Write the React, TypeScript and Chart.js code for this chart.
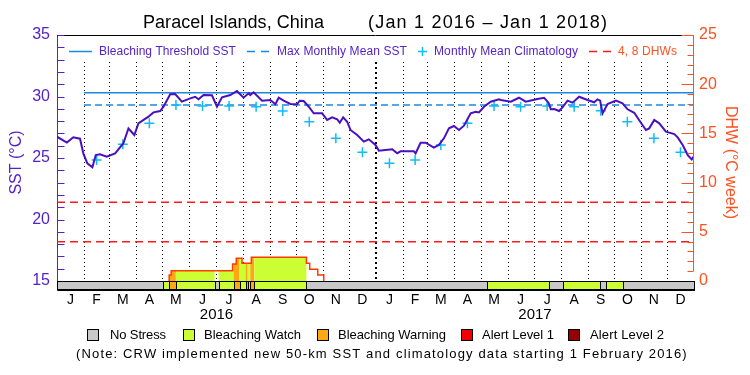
import React, { useEffect, useRef } from 'react';
import { Chart, registerables } from 'chart.js';

Chart.register(...registerables);

// ---------- data ----------
const MONTH_LETTERS = ['J', 'F', 'M', 'A', 'M', 'J', 'J', 'A', 'S', 'O', 'N', 'D'];
const YEARS = [2016, 2017];

const sstDays = [0, 11.3, 18.7, 26.4, 30.2, 34.8, 40.6, 44.5, 49.4, 57.1, 66.7, 76.2, 82, 88.8, 93.4, 104.9, 110.7, 118.4, 122.2, 129.9, 135.6, 143.3, 152.9, 158.6, 162.4, 168.2, 177.8, 183.6, 189.3, 198.9, 206.5, 214.1, 219.9, 221.8, 225.6, 235.3, 244.8, 250.6, 254.4, 260.1, 267.8, 275.5, 278.5, 283.1, 288.9, 294.6, 304.3, 310, 315.7, 321.5, 324.5, 328.4, 333, 336.8, 344.5, 352.1, 357.8, 365.5, 369.3, 377, 384.7, 390.4, 394.2, 409.5, 411.5, 417.2, 423, 432.5, 438.3, 444, 449.8, 455.5, 461.3, 467, 474.7, 480.5, 484.2, 490, 497.7, 507.2, 509.2, 520.7, 530.2, 537.9, 551.4, 559, 564, 566.7, 570.5, 576.2, 580.1, 585.9, 591.6, 599.2, 608.8, 616.4, 620.3, 623.3, 626.1, 631.8, 641.4, 649, 654.8, 662.4, 670.1, 675.8, 679.6, 685.4, 691.1, 698.8, 708.4, 712.3, 718, 723.8, 728.4, 731];
const sstValues = [26.73, 26.25, 26.68, 26.57, 25.38, 24.57, 24.24, 25.24, 25.3, 25.1, 25.38, 26.2, 27.4, 26.87, 27.82, 28.36, 28.71, 28.82, 29.17, 30.18, 30.2, 29.58, 29.85, 29.98, 29.77, 30.12, 30.1, 29.17, 29.93, 30.12, 30.45, 29.9, 30.26, 30.12, 30.34, 29.66, 29.72, 29.37, 29.9, 29.66, 29.39, 29.37, 29.66, 29.63, 29.17, 28.63, 28.63, 28.09, 28.31, 28.15, 27.87, 28.31, 27.95, 27.28, 26.87, 26.33, 26.52, 26.06, 25.6, 25.65, 25.71, 25.38, 25.54, 25.54, 25.38, 26.24, 26.24, 25.84, 26.06, 26.6, 27.41, 27.6, 27.28, 27.63, 28.63, 28.76, 28.71, 29.17, 29.58, 29.77, 29.72, 29.58, 29.9, 29.58, 29.8, 29.9, 29.5, 28.96, 28.98, 28.82, 29.12, 29.66, 29.5, 29.98, 29.72, 29.53, 29.77, 29.66, 28.63, 29.39, 29.66, 29.45, 28.96, 28.68, 27.87, 27.28, 27.41, 28.09, 27.82, 27.14, 26.95, 26.68, 26.06, 25.24, 24.89, 25.16];

// monthly mean climatology, Feb 2016 .. Dec 2017 (plotted mid-month)
const climStartMonth = 1;
const climValues = [24.84, 26.11, 27.82, 29.31, 29.23, 29.23, 29.17, 28.82, 27.95, 26.6, 25.46, 24.57, 24.84, 26.06, 27.82, 29.23, 29.17, 29.23, 29.17, 28.85, 27.95, 26.6, 25.46];

const thresholdSST = 30.3;
const mmmSST = 29.3;
const climStartDay = 31; // 1 Feb 2016
const dhwLevels = [4, 8];

const dhwDays = [128.7, 128.7, 131, 201.5, 205.7, 212.3, 223, 286.2, 290, 299.2, 306.1];
const dhwValues = [0, 0.61, 1.05, 1.73, 2.31, 1.8, 2.41, 1.8, 1.19, 0.61, 0];

const stressStartDays = [0, 122.2, 128.7, 136.4, 180.8, 185.4, 202.6, 209.5, 216.4, 218.8, 221.8, 226.4, 286.2, 493.8, 564.7, 580.9, 623.3, 629.8, 649];
const stressLevels = [0, 1, 2, 1, 0, 1, 2, 1, 2, 1, 2, 1, 0, 1, 0, 1, 0, 1, 0];
const stressEndDay = 731;

const stressNames = ['No Stress', 'Bleaching Watch', 'Bleaching Warning', 'Alert Level 1', 'Alert Level 2'];
const stressColors = ['#c8c8c8', '#ccff33', '#ffa714', '#f00000', '#960000'];

// ---------- styling ----------
const FONT = "'Liberation Sans', Arial, sans-serif";
const SST_COLOR = '#4a10c0';
const AXIS_PURPLE = '#5522c8';
const BLUE = '#1e88e0';
const CYAN = '#10bcf8';
const RED = '#ff1a1a';
const ORANGE = '#ff5020';
const DHW_COLOR = '#ff3c00';

const dayOf = (y: number, m: number) => (Date.UTC(y, m, 1) - Date.UTC(2016, 0, 1)) / 86400000;
const monthStarts: number[] = [];
for (let i = 0; i <= 24; i++) monthStarts.push(dayOf(2016, i));
const monthMids = monthStarts.slice(0, 24).map((d, i) => (d + monthStarts[i + 1]) / 2);

function fitText(ctx: CanvasRenderingContext2D, text: string, x: number, y: number, width: number) {
  const c: any = ctx;
  c.letterSpacing = '0px';
  const w = ctx.measureText(text).width;
  const n = Math.max(1, text.length - 1);
  let sp = (width - w) / n;
  sp = Math.max(-1.5, Math.min(3, sp));
  c.letterSpacing = sp.toFixed(2) + 'px';
  ctx.fillText(text, x, y);
  c.letterSpacing = '0px';
}

const overlayPlugin = {
  id: 'crwOverlay',
  beforeDatasetsDraw(chart: any) {
    const { ctx, chartArea, scales } = chart;
    const xs = scales.x, ys = scales.y, yd = scales.y2;
    const y15 = ys.getPixelForValue(15);
    // month separators
    ctx.save();
    ctx.strokeStyle = '#000';
    for (let i = 1; i < monthStarts.length - 1; i++) {
      const yearLine = i % 12 === 0;
      const px = Math.round(xs.getPixelForValue(monthStarts[i])) + (yearLine ? 0 : 0.5);
      ctx.lineWidth = yearLine ? 2 : 1;
      ctx.setLineDash(yearLine ? [2, 3] : [1, 3]);
      ctx.beginPath();
      ctx.moveTo(px, 62);
      ctx.lineTo(px, y15);
      ctx.stroke();
    }
    ctx.restore();

    // DHW area coloured by stress level
    ctx.save();
    const base = yd.getPixelForValue(0);
    ctx.beginPath();
    const x0 = xs.getPixelForValue(dhwDays[0]);
    ctx.moveTo(x0, base);
    let prevY = yd.getPixelForValue(dhwValues[0]);
    ctx.lineTo(x0, prevY);
    for (let i = 1; i < dhwDays.length; i++) {
      const px = xs.getPixelForValue(dhwDays[i]);
      const py = yd.getPixelForValue(dhwValues[i]);
      ctx.lineTo(px, prevY);
      ctx.lineTo(px, py);
      prevY = py;
    }
    ctx.lineTo(xs.getPixelForValue(dhwDays[dhwDays.length - 1]), base);
    ctx.closePath();
    ctx.clip();
    for (let i = 0; i < stressStartDays.length; i++) {
      if (stressLevels[i] === 0) continue;
      const a = xs.getPixelForValue(stressStartDays[i]);
      const b = xs.getPixelForValue(i + 1 < stressStartDays.length ? stressStartDays[i + 1] : stressEndDay);
      ctx.fillStyle = stressColors[stressLevels[i]];
      ctx.fillRect(a, chartArea.top, b - a, base - chartArea.top);
    }
    ctx.restore();
  },
  afterDatasetsDraw(chart: any) {
    const { ctx, chartArea, scales } = chart;
    const xs = scales.x, ys = scales.y, yd = scales.y2;
    const y15 = Math.round(ys.getPixelForValue(15)) + 0.5;
    const yb = Math.round(chartArea.bottom) - 0.5;
    ctx.save();
    // stress bar
    ctx.lineWidth = 1;
    ctx.strokeStyle = '#000';
    for (let i = 0; i < stressStartDays.length; i++) {
      const a = Math.round(xs.getPixelForValue(stressStartDays[i])) + 0.5;
      const b = Math.round(xs.getPixelForValue(i + 1 < stressStartDays.length ? stressStartDays[i + 1] : stressEndDay)) + 0.5;
      ctx.fillStyle = stressColors[stressLevels[i]];
      ctx.fillRect(a, y15, b - a, yb - y15);
      ctx.strokeRect(a, y15, b - a, yb - y15);
    }
    // top frame
    ctx.beginPath();
    ctx.moveTo(chartArea.left, chartArea.top + 0.5);
    ctx.lineTo(chartArea.right, chartArea.top + 0.5);
    ctx.stroke();
    // right (DHW) axis line and ticks
    const rx = Math.round(chartArea.right) - 0.5;
    ctx.strokeStyle = ORANGE;
    ctx.beginPath();
    ctx.moveTo(rx, chartArea.top);
    ctx.lineTo(rx, yd.getPixelForValue(1));
    ctx.stroke();
    for (let v = 1; v <= 25; v++) {
      const py = Math.round(yd.getPixelForValue(v)) + 0.5;
      const len = v % 5 === 0 ? 12 : 6;
      ctx.beginPath();
      ctx.moveTo(rx - len, py);
      ctx.lineTo(rx, py);
      ctx.stroke();
    }
    // left (SST) minor ticks
    const lx = Math.round(chartArea.left) + 0.5;
    ctx.strokeStyle = AXIS_PURPLE;
    for (let v = 16; v <= 35; v++) {
      const py = Math.round(ys.getPixelForValue(v)) + 0.5;
      ctx.beginPath();
      ctx.moveTo(lx, py);
      ctx.lineTo(lx + 7, py);
      ctx.stroke();
    }

    // in-plot legend
    const ly = 51.5;
    ctx.textBaseline = 'middle';
    ctx.textAlign = 'left';
    ctx.font = `12px ${FONT}`;
    ctx.lineWidth = 1.5;
    ctx.strokeStyle = BLUE;
    ctx.beginPath(); ctx.moveTo(69, ly); ctx.lineTo(92, ly); ctx.stroke();
    ctx.beginPath(); ctx.moveTo(247, ly); ctx.lineTo(255, ly); ctx.moveTo(261, ly); ctx.lineTo(269, ly); ctx.stroke();
    ctx.strokeStyle = CYAN;
    ctx.beginPath(); ctx.moveTo(418, ly); ctx.lineTo(427, ly); ctx.moveTo(422.5, ly - 4.5); ctx.lineTo(422.5, ly + 4.5); ctx.stroke();
    ctx.strokeStyle = RED;
    ctx.beginPath(); ctx.moveTo(589, ly); ctx.lineTo(597, ly); ctx.moveTo(603, ly); ctx.lineTo(611, ly); ctx.stroke();
    ctx.fillStyle = AXIS_PURPLE;
    fitText(ctx, 'Bleaching Threshold SST', 99, ly, 137);
    fitText(ctx, 'Max Monthly Mean SST', 277, ly, 130);
    fitText(ctx, 'Monthly Mean Climatology', 434, ly, 144);
    ctx.fillStyle = ORANGE;
    fitText(ctx, '4, 8 DHWs', 618, ly, 59);

    // title
    ctx.fillStyle = '#000';
    ctx.font = `18px ${FONT}`;
    fitText(ctx, 'Paracel Islands, China', 143, 23, 181);
    fitText(ctx, '(Jan 1 2016 – Jan 1 2018)', 368, 23, 239);

    // year labels
    ctx.font = `15px ${FONT}`;
    ctx.textAlign = 'center';
    YEARS.forEach((yr, i) => {
      const mid = (monthStarts[i * 12] + monthStarts[i * 12 + 12]) / 2;
      ctx.fillText(String(yr), xs.getPixelForValue(mid), 314.5);
    });

    // stress legend
    ctx.textAlign = 'left';
    ctx.font = `13px ${FONT}`;
    const boxX = [87, 183, 317, 461, 568];
    const textX = [110, 204, 338, 482, 590];
    const textW = [56, 97, 108, 72, 74];
    ctx.lineWidth = 1;
    ctx.strokeStyle = '#000';
    stressNames.forEach((name, i) => {
      ctx.fillStyle = stressColors[i];
      ctx.fillRect(boxX[i] + 0.5, 329.5, 11, 11);
      ctx.strokeRect(boxX[i] + 0.5, 329.5, 11, 11);
      ctx.fillStyle = '#000';
      fitText(ctx, name, textX[i], 335.5, textW[i]);
    });
    fitText(ctx, '(Note: CRW implemented new 50-km SST and climatology data starting 1 February 2016)', 76, 354.5, 611);
    ctx.restore();
  },
};

export default function App() {
  const canvasRef = useRef<HTMLCanvasElement | null>(null);

  useEffect(() => {
    const canvas = canvasRef.current;
    if (!canvas) return;
    Chart.defaults.font.family = FONT;

    const sstData = sstDays.map((d, i) => ({ x: d, y: sstValues[i] }));
    const climData = climValues.map((v, i) => ({ x: monthMids[climStartMonth + i], y: v }));
    const dhwData = dhwDays.map((d, i) => ({ x: d, y: dhwValues[i] }));

    const chart = new Chart(canvas, {
      type: 'line',
      data: {
        datasets: [
          {
            label: 'SST', data: sstData, yAxisID: 'y', borderColor: SST_COLOR, borderWidth: 2,
            pointRadius: 0, order: 1,
          },
          {
            label: 'Bleaching Threshold SST', yAxisID: 'y',
            data: [{ x: climStartDay, y: thresholdSST }, { x: stressEndDay, y: thresholdSST }],
            borderColor: BLUE, borderWidth: 1.5, pointRadius: 0, order: 3,
          },
          {
            label: 'Max Monthly Mean SST', yAxisID: 'y',
            data: [{ x: climStartDay, y: mmmSST }, { x: stressEndDay, y: mmmSST }],
            borderColor: BLUE, borderWidth: 1.5, borderDash: [7, 4], pointRadius: 0, order: 3,
          },
          {
            label: 'Monthly Mean Climatology', yAxisID: 'y', data: climData, showLine: false,
            pointStyle: 'cross', pointRadius: 5, pointBorderWidth: 1.5, pointBorderColor: CYAN,
            borderColor: CYAN, order: 2,
          },
          ...dhwLevels.map((lv) => ({
            label: `${lv} DHW`, yAxisID: 'y2',
            data: [{ x: 0, y: lv }, { x: stressEndDay, y: lv }],
            borderColor: RED, borderWidth: 1.5, borderDash: [8, 5], pointRadius: 0, order: 4,
          })),
          {
            label: 'DHW', yAxisID: 'y2', data: dhwData, stepped: 'before' as const,
            borderColor: DHW_COLOR, borderWidth: 1.5, pointRadius: 0, order: 5,
          },
        ],
      },
      options: {
        responsive: false,
        devicePixelRatio: 1,
        animation: false,
        events: [],
        layout: { padding: { top: 35, left: 0, right: 0, bottom: 0 } },
        plugins: { legend: { display: false }, title: { display: false }, tooltip: { enabled: false } },
        scales: {
          x: {
            type: 'linear', min: 0, max: stressEndDay, position: 'bottom',
            afterBuildTicks: (s: any) => { s.ticks = monthMids.map((v) => ({ value: v })); },
            afterFit: (s: any) => { s.height = 85; },
            ticks: {
              autoSkip: false, maxRotation: 0, color: '#000', padding: 2,
              font: { size: 14, family: FONT },
              callback: (_v: any, i: number) => MONTH_LETTERS[i % 12],
            },
            grid: { display: false, drawTicks: false },
            border: { display: true, color: '#000', width: 1 },
          },
          y: {
            type: 'linear', position: 'left', min: 14.27, max: 35,
            afterBuildTicks: (s: any) => { s.ticks = [15, 20, 25, 30, 35].map((v) => ({ value: v })); },
            afterFit: (s: any) => { s.width = 57; },
            ticks: { color: AXIS_PURPLE, padding: 7, font: { size: 16, family: FONT } },
            grid: { display: false, drawTicks: false },
            border: { display: true, color: AXIS_PURPLE, width: 1 },
            title: { display: true, text: 'SST (°C)', color: AXIS_PURPLE, font: { size: 16, family: FONT }, padding: { top: 7, bottom: 0 } },
          },
          y2: {
            type: 'linear', position: 'right', min: -0.9125, max: 25,
            afterBuildTicks: (s: any) => { s.ticks = [0, 5, 10, 15, 20, 25].map((v) => ({ value: v })); },
            afterFit: (s: any) => { s.width = 56; },
            ticks: { color: ORANGE, padding: 5, font: { size: 16, family: FONT } },
            grid: { display: false, drawTicks: false },
            border: { display: false },
            title: { display: true, text: 'DHW (°C week)', color: ORANGE, font: { size: 16, family: FONT }, padding: { top: 10, bottom: 0 } },
          },
        },
      },
      plugins: [overlayPlugin],
    } as any);

    return () => chart.destroy();
  }, []);

  return (
    <div style={{ position: 'fixed', left: 0, top: 0, width: 750, height: 375, background: '#fff' }}>
      <canvas ref={canvasRef} width={750} height={375} style={{ display: 'block', width: 750, height: 375 }} />
    </div>
  );
}
